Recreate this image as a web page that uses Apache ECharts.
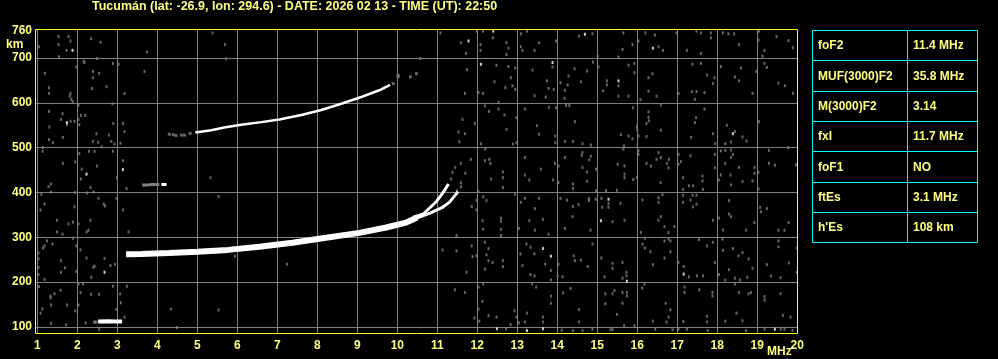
<!DOCTYPE html>
<html><head><meta charset="utf-8">
<script src="https://cdn.jsdelivr.net/npm/echarts@6/dist/echarts.min.js"></script>
<style>html,body{margin:0;padding:0;background:#000;}#c{width:998px;height:359px;}</style>
</head><body><div id="c"></div>
<script>
const titleText = 'Tucumán (lat: -26.9, lon: 294.6) - DATE: 2026 02 13 - TIME (UT): 22:50';
const freqTicks = [1,2,3,4,5,6,7,8,9,10,11,12,13,14,15,16,17,18,19,20];
const heightTicks = [100,200,300,400,500,600,700];
const heightLabels = [100,200,300,400,500,600,700,760];

// F2 trace (MHz, km)
const f2Main = [[3.22,262],[3.6,263],[4.3,265],[5.0,268],[5.77,272],[6.55,279],[7.38,288],[8.22,299],[9.05,310],[9.72,322],[10.22,333],[10.5,344]];
const f2OBranch = [[10.4,345],[10.65,352],[10.98,380],[11.13,398],[11.28,419]];
const f2XBranch = [[10.45,342],[10.82,354],[11.13,367],[11.3,378],[11.52,402]];
// upper (second-hop) trace
const upperTrace = [[4.95,534],[5.35,539],[5.67,545],[6.1,551],[6.6,557],[7.05,563],[7.6,573],[8.1,584],[8.6,598],[9.1,613],[9.55,628],[9.82,640]];
const upperFaint = [[4.3,530],[4.4,529],[4.47,527],[4.6,528],[4.68,528],[4.82,532],[9.9,643],[10.02,658],[10.02,662],[10.33,658],[10.48,665]];
// sporadic E trace and short trace
const esTrace = [[2.52,112],[2.75,113],[2.95,112],[3.12,112]];
const esFaint = [[2.43,111],[2.47,111]];
const midTraceGray = [[3.62,417],[3.78,417],[3.85,418],[4.05,418]];
const midTraceWhite = [[4.1,418],[4.23,418]];

const noiseGray = [
[1.53,748],[1.78,748],[1.83,738],[1.53,730],[1.73,717],[1.04,725],[1.54,703],[2.34,743],[2.58,735],[3.74,713],[5.38,756],[5.69,730],
[2.16,693],[2.18,690],[2.49,699],[2.89,688],[3.03,686],[1.98,680],[2.39,670],[2.54,666],[2.39,656],[1.19,666],[3.68,670],[2.37,632],
[2.73,636],[1.29,634],[1.29,621],[1.83,621],[1.81,615],[3.18,621],[1.85,608],[1.88,603],[2.03,595],[2.88,598],[1.29,581],[1.63,576],
[1.74,552],[2.2,572],[2.09,572],[2.03,563],[1.59,563],[1.83,559],[1.93,559],[2.05,551],[1.3,546],[2.9,554],[3.14,554],[3.18,536],
[2.48,531],[2.79,528],[1.64,523],[1.29,518],[1.39,511],[2.39,514],[2.52,512],[2.85,514],[2.93,508],[3.08,510],[2.61,502],[1.14,500],
[1.13,492],[2.05,487],[2.29,492],[2.43,492],[2.89,492],[1.64,465],[1.95,468],[2.49,459],[3.14,471],[2.11,452],[2.09,430],[2.99,433],
[5.33,433],[1.34,419],[1.28,413],[2.33,411],[2.24,399],[2.41,401],[3.23,409],[1.1,396],[1.34,401],[1.94,400],[2.53,387],[2.66,374],
[2.69,370],[2.98,387],[1.18,374],[1.08,361],[1.93,368],[3.14,361],[5.53,391],[1.49,338],[1.78,330],[1.89,334],[2.03,330],[2.33,338],
[2.28,316],[2.23,312],[1.49,312],[1.63,307],[3.28,312],[1.24,292],[1.18,281],[1.14,276],[1.38,285],[1.89,298],[1.98,281],[1.03,265],
[1.59,248],[1.03,252],[1.69,232],[2.08,272],[2.23,254],[2.68,253],[2.83,237],[2.94,240],[2.4,233],[2.43,236],[2.35,211],[1.03,233],
[1.59,222],[1.03,217],[1.98,224],[1.18,206],[1.04,190],[2.03,196],[2.14,196],[2.89,191],[3.24,191],[1.58,182],[1.43,174],[1.33,169],
[1.33,165],[2.08,177],[2.34,173],[2.54,173],[3.07,174],[3.09,154],[1.74,149],[1.34,149],[2.03,149],[1.95,136],[1.13,140],[1.08,131],
[2.98,139],[3.18,122],[4.34,140],[5.53,138],[1.34,108],[1.72,105],[2.21,109],[2.54,95],[4.49,99],
[5.72,698],[5.94,258],[7.24,240],
[11.08,756],[11.59,734],[11.72,710],[11.99,760],[12.14,760],[12.39,745],[12.08,730],[12.08,717],[12.73,734],[12.78,722],[12.73,708],
[13.09,754],[13.24,760],[13.09,725],[13.13,717],[13.43,717],[13.54,734],[13.97,738],[14.54,749],[14.88,754],[15.01,704],[10.58,699],
[11.74,674],[11.69,621],[12.03,623],[12.14,621],[12.48,684],[12.78,681],[12.95,678],[12.84,656],[12.7,634],[12.88,638],[12.95,630],
[12.43,647],[13.38,673],[13.43,616],[13.71,613],[13.88,680],[13.74,649],[13.91,630],[13.78,632],[14.08,645],[14.28,660],[14.26,640],
[14.19,628],[14.18,610],[14.43,676],[14.59,647],[14.74,671],[14.89,691],[15.03,680],[15.14,627],[15.24,649],
[12.53,601],[12.19,593],[12.29,581],[12.53,586],[12.68,573],[13.19,586],[12.98,567],[11.63,563],[11.94,554],[11.69,531],[11.53,535],
[11.55,513],[12.09,509],[12.73,541],[12.89,508],[12.98,511],[13.49,549],[13.54,530],[13.97,589],[13.79,590],[14.22,594],[14.3,594],
[14.44,558],[13.95,526],[13.95,511],[14.19,514],[14.39,514],[14.63,509],[14.84,506],
[12.2,497],[12.3,474],[12.19,471],[12.33,465],[11.84,474],[11.7,443],[11.59,465],[11.45,456],[11.38,445],[11.34,430],[11.59,422],
[11.59,413],[11.49,404],[12.64,446],[12.64,433],[12.34,430],[12.64,411],[13.19,478],[13.19,439],[13.3,428],[13.59,452],[13.89,428],
[13.94,465],[14.03,459],[14.03,422],[14.19,478],[14.61,483],[14.63,489],[14.8,473],[14.63,456],[14.74,446],[14.74,425],[14.39,419],
[14.84,481],[14.97,452],[14.39,409],[14.97,404],[15.22,404],
[12.03,402],[12.15,390],[12.23,382],[11.98,383],[11.86,369],[11.98,361],[12.13,337],[12.14,318],[12.59,343],[12.59,336],[12.59,318],
[12.59,304],[12.94,396],[13.09,378],[13.19,387],[13.3,337],[13.44,364],[13.44,316],[13.64,340],[13.54,387],[13.78,307],[14.08,387],
[14.24,383],[14.39,369],[14.38,346],[14.53,373],[14.79,387],[14.79,382],[14.96,385],[15.1,387],[15.12,367],[14.83,316],[14.19,320],
[11.48,304],[13.04,320],
[11.13,272],[11.48,270],[11.86,281],[11.88,257],[11.98,259],[12.19,289],[12.28,275],[12.23,261],[12.38,244],[12.64,248],[12.64,235],
[12.19,229],[11.73,222],[12.28,248],[13.23,285],[13.08,263],[13.13,237],[13.43,263],[13.33,278],[13.33,217],[13.43,214],[13.7,240],
[13.84,226],[13.84,205],[14.01,214],[14.03,240],[14.13,212],[14.41,259],[14.44,248],[14.59,249],[14.76,235],[14.88,285],[15.1,254],
[15.18,212],
[11.44,183],[11.69,177],[12.03,189],[12.15,196],[12.13,157],[12.03,140],[12.05,113],[11.93,120],[12.28,125],[12.48,122],[12.93,136],
[12.98,122],[13.24,131],[13.19,111],[13.37,196],[13.47,189],[13.64,122],[13.64,111],[13.84,169],[13.84,153],[14.14,176],[14.33,186],
[14.54,139],[14.54,111],[14.88,95],[15.2,174],[15.2,152],[12.72,96],[12.83,105],[13.04,109],[14.11,93],[14.39,92],[14.63,92],
[15.65,756],[15.63,719],[15.88,730],[16.03,738],[16.44,751],[16.2,756],[16.53,725],[16.64,717],[16.98,756],[17.24,717],[17.48,760],
[17.59,756],[17.59,710],[17.84,756],[17.84,745],[18.14,756],[18.28,754],[18.42,754],[18.54,730],[19.04,760],[19.03,740],[19.48,748],
[19.78,739],[19.89,723],[19.18,717],[19.13,704],[15.53,702],
[15.53,638],[15.53,615],[15.93,667],[15.93,688],[15.78,684],[15.78,615],[16.28,656],[16.38,665],[16.28,626],[16.48,615],[16.08,607],
[17.38,686],[17.59,688],[17.74,662],[17.93,656],[17.89,643],[17.48,625],[17.37,625],[17.68,623],[17.44,608],[17.03,621],[18.09,681],
[18.44,658],[18.54,649],[18.59,678],[18.88,621],[18.98,670],[19.18,688],[19.24,679],[19.53,644],[19.69,638],[19.89,621],[15.24,640],
[15.89,589],[16.28,580],[16.28,568],[16.29,560],[16.23,554],[16.59,595],[15.99,547],[16.0,540],[16.03,526],[15.59,529],[15.78,526],
[15.88,520],[16.23,525],[16.59,539],[17.68,586],[17.47,567],[17.44,556],[17.89,531],[17.95,509],[17.34,523],[18.24,550],[18.44,536],
[18.63,524],[18.73,515],[18.2,509],[18.34,513],[19.04,558],[15.67,504],
[15.65,497],[16.03,493],[16.03,485],[16.53,489],[16.59,478],[16.34,459],[16.23,465],[16.48,474],[16.79,474],[16.74,465],[16.78,455],
[16.58,422],[15.68,459],[15.51,463],[15.68,441],[15.68,433],[15.99,433],[15.9,429],[17.03,485],[17.03,463],[17.09,469],[17.33,482],
[17.14,433],[17.14,407],[17.29,415],[17.39,415],[17.63,437],[17.63,426],[17.64,407],[17.94,485],[17.94,455],[18.04,428],[18.09,439],
[18.09,493],[18.2,494],[18.34,495],[18.34,478],[18.39,485],[18.2,465],[18.33,439],[18.34,417],[18.54,456],[18.63,425],[18.93,456],
[18.93,443],[19.03,445],[18.88,426],[19.03,408],[19.29,494],[19.29,465],[19.44,461],[19.78,500],[19.97,462],
[15.28,367],[15.28,375],[15.58,376],[15.49,405],[15.38,335],[15.68,338],[16.13,383],[16.53,388],[16.63,395],[16.53,378],[16.59,346],
[16.53,338],[16.68,324],[16.93,324],[16.09,311],[16.19,298],[16.78,311],[17.14,378],[17.14,394],[17.38,394],[17.48,394],[17.33,383],
[17.48,374],[17.39,368],[17.89,338],[18.04,343],[18.29,382],[18.29,352],[18.34,346],[18.14,316],[18.72,316],[18.93,333],[19.07,367],
[19.09,357],[19.24,364],[19.53,316],[19.68,316],[19.78,333],
[16.13,285],[16.19,276],[16.68,292],[16.78,296],[16.83,292],[16.83,268],[16.68,254],[16.33,268],[16.39,239],[17.03,244],[17.16,235],
[17.29,212],[17.49,214],[17.64,214],[17.54,295],[17.74,281],[17.89,289],[17.94,244],[18.04,217],[18.13,296],[18.14,271],[18.39,275],
[18.29,228],[18.53,259],[18.63,266],[18.78,252],[18.88,231],[18.75,211],[18.57,205],[18.44,209],[18.2,205],[19.24,239],[19.34,214],
[19.53,292],[19.53,279],[19.58,210],[19.79,243],[19.99,276],[19.99,222],[15.38,242],[15.38,231],[15.63,244],[15.73,222],[15.73,214],
[15.63,209],
[15.43,181],[15.38,174],[15.63,177],[15.74,177],[15.74,169],[15.63,153],[16.18,196],[16.12,187],[16.71,153],[16.83,138],[16.73,111],
[16.78,122],[16.39,113],[17.18,189],[17.18,177],[17.15,112],[17.03,95],[17.55,183],[17.74,124],[17.74,111],[17.88,177],[17.88,169],
[18.2,113],[18.44,196],[18.48,131],[18.54,177],[18.63,114],[18.78,174],[18.84,177],[19.18,168],[19.18,160],[19.58,174],[19.64,126],
[19.83,122],[15.49,128],[15.67,103],[15.93,103],[15.33,94],[15.38,94],[16.45,95],[16.88,94],[17.24,95],[17.76,92],[18.72,92],
[19.18,95],[19.59,95],[19.68,95],[19.88,92]
];
const noiseWhite = [[1.88,717],[1.74,556],[3.14,451],[2.23,441],[2.68,222],[11.78,738],[12.4,760],[14.69,753],[12.09,686],[13.88,690],
[15.09,337],[13.64,275],[13.84,258],[12.49,96],[13.24,92],[13.64,96],[16.39,722],[15.53,649],[18.39,531],[15.28,385],[17.16,218],
[15.74,202],[19.44,95]];

const tableLabels = ['foF2','MUF(3000)F2','M(3000)F2','fxI','foF1','ftEs',"h'Es"];
const tableValues = ['11.4 MHz','35.8 MHz','3.14','11.7 MHz','NO','3.1 MHz','108 km'];

const YEL = '#ffff80';
const FONT = '"Liberation Sans", Arial, sans-serif';
const chart = echarts.init(document.getElementById('c'), null, {renderer: 'canvas'});

function lineSeries(data, color, width, z) {
  return {type: 'line', data: data, showSymbol: false, symbol: 'none', silent: true, z: z || 3,
    lineStyle: {color: color, width: width, cap: 'butt'}, animation: false};
}
function scatterSeries(data, color, size, z) {
  return {type: 'scatter', data: data, symbol: 'rect', symbolSize: size, silent: true, z: z || 2,
    itemStyle: {color: color}, animation: false};
}

// table graphics
const tg = [];
const tX0 = 812.5, tX1 = 907.5, tX2 = 977.5, tY0 = 30, rowH = 30.33;
const nRows = tableLabels.length;
for (let i = 0; i <= nRows; i++) {
  const y = Math.round(tY0 + i * rowH) + 0.5;
  tg.push({type: 'line', shape: {x1: tX0, y1: y, x2: tX2, y2: y}, style: {stroke: '#00ffff', lineWidth: 1}});
}
const yTop = Math.round(tY0) + 0.5, yBot = Math.round(tY0 + nRows * rowH) + 0.5;
[tX0, tX1, tX2].forEach(x => tg.push({type: 'line', shape: {x1: x, y1: yTop, x2: x, y2: yBot}, style: {stroke: '#00ffff', lineWidth: 1}}));
for (let i = 0; i < nRows; i++) {
  const yc = tY0 + (i + 0.5) * rowH + 1;
  tg.push({type: 'text', x: 818, y: yc, style: {text: tableLabels[i], fill: YEL, font: 'bold 12px ' + FONT, textVerticalAlign: 'middle'}});
  tg.push({type: 'text', x: 913, y: yc, style: {text: tableValues[i], fill: YEL, font: 'bold 12px ' + FONT, textVerticalAlign: 'middle'}});
}

chart.setOption({
  backgroundColor: '#000',
  animation: false,
  grid: {left: 36, right: 200, top: 30, bottom: 26, show: false, containLabel: false},
  xAxis: {type: 'value', min: 0.967, max: 20.018,
    axisLine: {show: false},
    axisTick: {show: false, customValues: freqTicks},
    axisLabel: {customValues: freqTicks, color: YEL, fontWeight: 'bold', fontSize: 12, fontFamily: FONT, margin: 7},
    splitLine: {show: true, lineStyle: {color: '#808080', width: 1}}},
  yAxis: {type: 'value', min: 86.6, max: 762.5,
    axisLine: {show: false},
    axisTick: {show: false, customValues: heightTicks},
    axisLabel: {customValues: heightLabels, color: YEL, fontWeight: 'bold', fontSize: 12, fontFamily: FONT, margin: 4},
    splitLine: {show: true, lineStyle: {color: '#808080', width: 1}}},
  graphic: [
    {type: 'rect', z: 100, silent: true, shape: {x: 35.5, y: 29.5, width: 762, height: 304}, style: {fill: 'none', stroke: '#ffff00', lineWidth: 1}},
    {type: 'text', x: 92, y: 7, style: {text: titleText, fill: YEL, font: 'bold 12.5px ' + FONT, textVerticalAlign: 'middle'}},
    {type: 'text', x: 6, y: 45, style: {text: 'km', fill: YEL, font: 'bold 12px ' + FONT, textVerticalAlign: 'middle'}},
    {type: 'text', x: 767, y: 352, style: {text: 'MHz', fill: YEL, font: 'bold 12px ' + FONT, textVerticalAlign: 'middle'}}
  ].concat(tg),
  series: [
    scatterSeries(noiseGray, '#808080', [2, 3], 2),
    scatterSeries(noiseWhite, '#ffffff', [2, 3], 2),
    scatterSeries(upperFaint, '#808080', [3, 3], 2),
    scatterSeries(esFaint, '#808080', [3, 3], 2),
    lineSeries(f2Main, '#ffffff', 6, 4),
    lineSeries(f2OBranch, '#ffffff', 3, 4),
    lineSeries(f2XBranch, '#ffffff', 3, 4),
    lineSeries(upperTrace, '#ffffff', 2.5, 4),
    lineSeries(esTrace, '#ffffff', 4, 4),
    lineSeries(midTraceGray, '#808080', 3, 4),
    lineSeries(midTraceWhite, '#ffffff', 3, 4)
  ]
});
</script></body></html>
